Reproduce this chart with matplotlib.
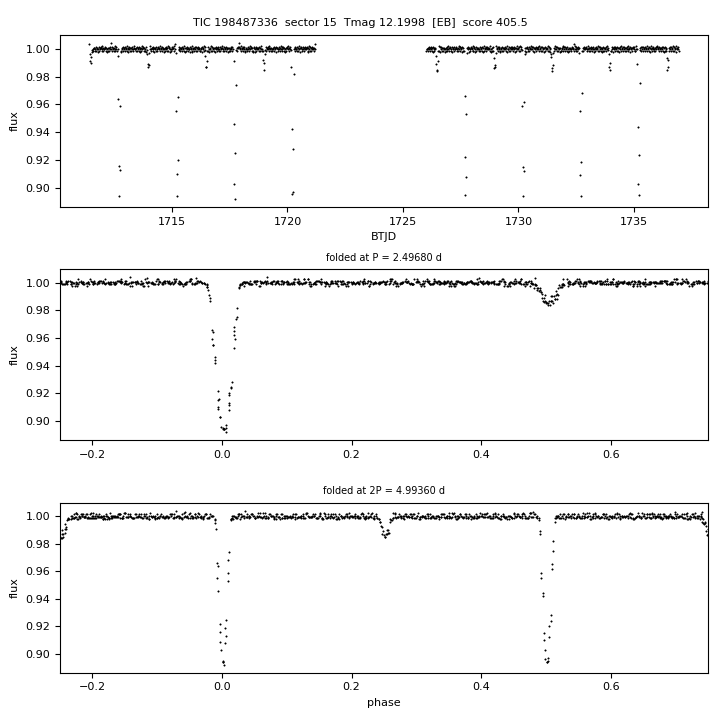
import numpy as np
import matplotlib
matplotlib.use("Agg")
import matplotlib.pyplot as plt

# ephemeris used for the folds
period = 2.4968
t0 = 1712.72
cadence = 1.0 / 48  # 30-min FFI cadence, days

title = "TIC 198487336  sector 15  Tmag 12.1998  [EB]  score 405.5"

# out-of-eclipse flux per cadence, one digit per point, 1 + (d - 4.5) * noise_step
seg_start = [1711.43, 1726.01]
noise_step = 0.0009
seg1_noise = """
4536452345 5436354426 3545637453 4465354235 5346493645 3547346352
4635452456 3456354734 5264353546 4357445363 5436245357 4653543625
3546374435 5463524536 4356453745 6354243556 4537356424 3645537846
5243654635 4563453725 3546354462 5437245356 4635364543 3546254736
4365453624 5437364535 2546354643 4635475346 3546354253 5436453647
4356245365 9645374536 5462354346 4537456352 3654263545 4536354736
5364253645 4653745354 3546354625 5436453746 4365354253 5647354635
3456245364 4635374526 5346453645 4563254736 3546453548
"""
seg2_noise = """
3445364536 4536245354 5364453726 4635354524 3546374536 5436254634
4563453746 3654263545 5437354625 4365453736 5246354543 4635463527
3546354645 5437245364 4365374536 5463254635 3546453724 4635364546
5364253547 4536374635 3645453526 5436354746 4365245364 5546374536
3654253645 4537364526 5346453746 4635354253 3546374636 5463245354
4356453847 3645364526 5436253645 4563474535 3546354624 5364453736
4635254635 3546374544 5437364526 4365453635 5246374536 4635354647
3546254536 5463374525 4356453646 3645364537 5436254735 4563453646
7546354536 4635263547 3546454636 5437364527 45463
"""

# primary eclipses: cycle number, phase of each point, flux
prim_cycle = [0, 1, 2, 3, 6, 7, 8, 9]
prim_phase = [
    [-0.0303, -0.0220, -0.0137, -0.0053, 0.0030, 0.0113, 0.0197, 0.0280],
    [-0.0225, -0.0142, -0.0058, 0.0025, 0.0108, 0.0192, 0.0275],
    [-0.0278, -0.0195, -0.0112, -0.0028, 0.0055, 0.0138, 0.0222, 0.0305],
    [-0.0268, -0.0185, -0.0102, -0.0018, 0.0065, 0.0148, 0.0232, 0.0315],
    [-0.0230, -0.0147, -0.0063, 0.0020, 0.0103, 0.0187, 0.0270],
    [-0.0230, -0.0147, -0.0063, 0.0020, 0.0103, 0.0187, 0.0270],
    [-0.0225, -0.0142, -0.0058, 0.0025, 0.0108, 0.0192, 0.0275],
    [-0.0273, -0.0190, -0.0107, -0.0023, 0.0060, 0.0143, 0.0227, 0.0310],
]
prim_flux = [
    [1.000, 0.995, 0.964, 0.916, 0.894, 0.913, 0.959, 0.998],
    [0.997, 0.955, 0.910, 0.894, 0.920, 0.965, 0.999],
    [1.000, 0.991, 0.946, 0.903, 0.892, 0.925, 0.974, 0.999],
    [0.999, 0.987, 0.942, 0.896, 0.897, 0.928, 0.982, 1.000],
    [0.998, 0.966, 0.922, 0.895, 0.908, 0.953, 0.997],
    [0.999, 0.959, 0.915, 0.894, 0.912, 0.962, 0.996],
    [0.997, 0.955, 0.909, 0.894, 0.919, 0.968, 0.998],
    [1.000, 0.989, 0.944, 0.903, 0.895, 0.924, 0.975, 0.999],
]

# secondary eclipses
sec_cycle = [-1, 0, 1, 2, 5, 6, 7, 8, 9]
sec_phase = [
    [0.4825, 0.4908, 0.4992, 0.5075, 0.5158, 0.5242],
    [0.4800, 0.4883, 0.4967, 0.5050, 0.5133, 0.5217],
    [0.4825, 0.4908, 0.4992, 0.5075, 0.5158, 0.5242],
    [0.4767, 0.4850, 0.4933, 0.5017, 0.5100, 0.5183, 0.5267],
    [0.4775, 0.4858, 0.4942, 0.5025, 0.5108, 0.5192, 0.5275],
    [0.4833, 0.4917, 0.5000, 0.5083, 0.5167, 0.5250],
    [0.4808, 0.4892, 0.4975, 0.5058, 0.5142, 0.5225],
    [0.4783, 0.4867, 0.4950, 0.5033, 0.5117, 0.5200],
    [0.4842, 0.4925, 0.5008, 0.5092, 0.5175, 0.5258],
]
sec_flux = [
    [1.003, 0.996, 0.991, 0.990, 0.994, 0.999],
    [0.999, 0.996, 0.989, 0.987, 0.988, 0.997],
    [0.999, 0.995, 0.987, 0.987, 0.991, 0.998],
    [1.000, 0.998, 0.992, 0.985, 0.990, 0.996, 0.999],
    [1.000, 0.995, 0.989, 0.984, 0.985, 0.991, 0.998],
    [0.998, 0.993, 0.986, 0.987, 0.988, 0.997],
    [0.996, 0.994, 0.986, 0.984, 0.988, 0.997],
    [0.999, 0.996, 0.987, 0.985, 0.990, 0.998],
    [0.998, 0.993, 0.985, 0.987, 0.992, 0.998],
]


def fold(t, p):
    return ((t - t0) / p + 0.25) % 1.0 - 0.25


# baseline cadences
t_base, f_base = [], []
for start, s in zip(seg_start, [seg1_noise, seg2_noise]):
    d = np.array([int(c) for c in "".join(s.split())])
    t_base.append(start + np.arange(len(d)) * cadence)
    f_base.append(1.0 + (d - 4.5) * noise_step)
t_base = np.concatenate(t_base)
f_base = np.concatenate(f_base)

# put the eclipse points in place of the cadences they cover
keep = np.ones(len(t_base), dtype=bool)
ecl_t, ecl_f = [], []
for cyc, ph, fl in zip(prim_cycle + sec_cycle, prim_phase + sec_phase, prim_flux + sec_flux):
    te = t0 + (cyc + np.array(ph)) * period
    keep &= ~((t_base > te.min() - cadence / 2) & (t_base < te.max() + cadence / 2))
    ecl_t.append(te)
    ecl_f.append(np.array(fl))

time = np.concatenate([t_base[keep]] + ecl_t)
flux = np.concatenate([f_base[keep]] + ecl_f)
order = np.argsort(time)
time, flux = time[order], flux[order]

plt.rcParams["font.size"] = 8

fig = plt.figure(figsize=(7.2, 7.2), dpi=100)
ax1 = fig.add_axes([0.0833, 0.7125, 0.9, 0.2389])
ax2 = fig.add_axes([0.0833, 0.3889, 0.9, 0.2375])
ax3 = fig.add_axes([0.0833, 0.0657, 0.9, 0.2361])

style = dict(ls="none", marker=".", color="k", ms=2.0, mew=0.4)
ax1.plot(time, flux, **style)
ax1.set_xlabel("BTJD")
ax1.set_ylabel("flux")

ax2.plot(fold(time, period), flux, **style)
ax2.set_xlim(-0.25, 0.75)
ax2.set_ylabel("flux")
ax2.set_title("folded at P = %.5f d" % period, fontsize=7)

ax3.plot(fold(time, 2 * period), flux, **style)
ax3.set_xlim(-0.25, 0.75)
ax3.set_xlabel("phase")
ax3.set_ylabel("flux")
ax3.set_title("folded at 2P = %.5f d" % (2 * period), fontsize=7)

for ax in (ax1, ax2, ax3):
    ax.set_ylim(0.8864, 1.0098)
    ax.set_yticks([0.90, 0.92, 0.94, 0.96, 0.98, 1.00])

fig.suptitle(title, fontsize=8, y=0.975)

fig.savefig("out.png", dpi=100)
